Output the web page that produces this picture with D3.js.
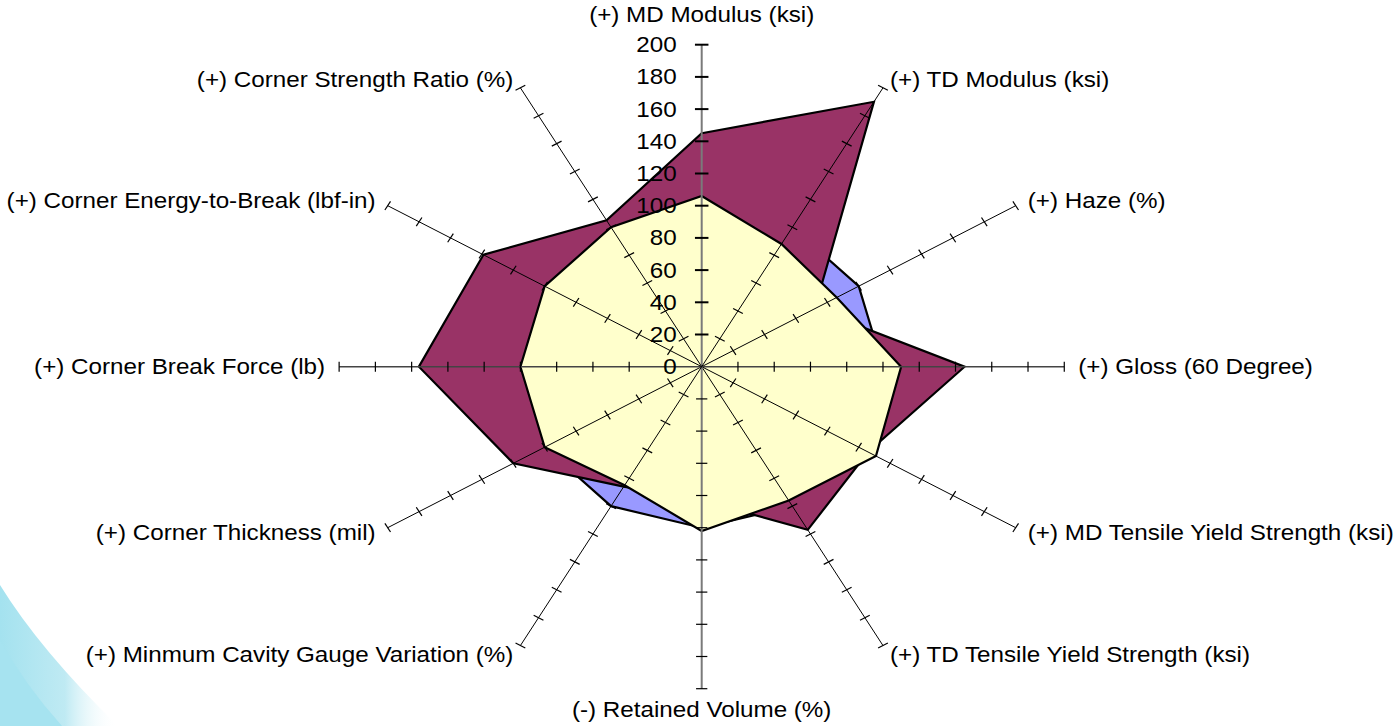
<!DOCTYPE html>
<html>
<head>
<meta charset="UTF-8">
<title>Radar chart</title>
<style>
    body { margin: 0; background: #fff; }
    svg { display: block; }
    text { font-family: "Liberation Sans", Arial, sans-serif; fill: #000; }
</style>
</head>
<body>
<svg id="chart" width="1395" height="726"></svg>
<script src="https://d3js.org/d3.v7.min.js"></script>
<script>
    // categories clockwise from the top
    let categories = [
        "(+) MD Modulus (ksi)",
        "(+) TD Modulus (ksi)",
        "(+) Haze (%)",
        "(+) Gloss (60 Degree)",
        "(+) MD Tensile Yield Strength (ksi)",
        "(+) TD Tensile Yield Strength (ksi)",
        "(-) Retained Volume (%)",
        "(+) Minmum Cavity Gauge Variation (%)",
        "(+) Corner Thickness (mil)",
        "(+) Corner Break Force (lb)",
        "(+) Corner Energy-to-Break (lbf-in)",
        "(+) Corner Strength Ratio (%)"
    ];
    let baseline = [100, 100, 100, 100, 100, 100, 100, 100, 100, 100, 100, 100];
    let sampleA = [145, 190, 72, 145, 106, 117, 83, 86, 120, 156, 139, 105];
    let sampleB = [106, 88, 86, 110, 111, 96, 102, 85, 100, 100, 100, 100];
    let tickValues = [0, 20, 40, 60, 80, 100, 120, 140, 160, 180, 200];

    let width = 1395, height = 726;
    let cx = 701.7, cy = 366.7, R = 322;
    let sx = 1.126; // picture is stretched sideways

    let svg = d3.select("#chart");

    // light cyan swoosh in the bottom-left corner
    let grad = svg.append("defs").append("linearGradient")
        .attr("id", "swoosh")
        .attr("x1", "0").attr("y1", "0").attr("x2", "1").attr("y2", "0");
    grad.append("stop").attr("offset", "0").attr("stop-color", "#a4e2ef");
    grad.append("stop").attr("offset", "0.55").attr("stop-color", "#bfeaf3");
    grad.append("stop").attr("offset", "1").attr("stop-color", "#ffffff").attr("stop-opacity", 0);
    svg.append("path")
        .attr("d", "M0,585 Q40,650 118,726 L0,726 Z")
        .attr("fill", "url(#swoosh)");
    svg.append("path")
        .attr("d", "M0,640 Q25,685 62,726 L0,726 Z")
        .attr("fill", "#a6e3f0");

    let r = d3.scaleLinear().domain([0, 200]).range([0, R]);
    let angle = i => i * 2 * Math.PI / categories.length;

    let g = svg.append("g")
        .attr("transform", "translate(" + cx + "," + cy + ") scale(" + sx + ",1)");

    let radar = d3.lineRadial()
        .angle((d, i) => angle(i))
        .radius(d => r(d))
        .curve(d3.curveLinearClosed);

    // series order as drawn: baseline at the back, sample B on top
    let series = [
        { values: baseline, color: "#9999ff" },
        { values: sampleA, color: "#993366" },
        { values: sampleB, color: "#ffffcc" }
    ];
    g.append("g").selectAll("path")
        .data(series)
        .enter()
        .append("path")
        .attr("d", d => radar(d.values))
        .attr("fill", d => d.color)
        .attr("stroke", "#000")
        .attr("stroke-width", 2.2)
        .attr("stroke-linejoin", "miter")
        .attr("vector-effect", "non-scaling-stroke");

    // spokes
    let spokes = g.append("g");
    categories.forEach((c, i) => {
        let a = angle(i), s = Math.sin(a), co = Math.cos(a);
        let vertical = Math.abs(s) < 0.01, horizontal = Math.abs(co) < 0.01;
        spokes.append("line")
            .attr("x1", 0).attr("y1", 0)
            .attr("x2", r(200) * s).attr("y2", -r(200) * co)
            .attr("stroke", vertical ? "#7a7a7a" : horizontal ? "#444" : "#000")
            .attr("stroke-width", vertical ? 2 : horizontal ? 1.4 : 1)
            .attr("vector-effect", "non-scaling-stroke");
        tickValues.slice(1).forEach(t => {
            let px = r(t) * s, py = -r(t) * co;
            let h = i == 0 ? 6 : 5;
            spokes.append("line")
                .attr("x1", px - co * h).attr("y1", py - s * h)
                .attr("x2", px + co * h).attr("y2", py + s * h)
                .attr("stroke", "#000")
                .attr("stroke-width", i == 0 ? 2 : 1.2)
                .attr("vector-effect", "non-scaling-stroke");
        });
    });

    // value labels on the top spoke
    g.append("g").selectAll("text")
        .data(tickValues)
        .enter()
        .append("text")
        .attr("x", -25 / sx)
        .attr("y", d => -r(d))
        .attr("dy", "0.35em")
        .attr("text-anchor", "end")
        .style("font-size", "21.5px")
        .text(d => d);

    // category labels
    g.append("g").selectAll("text")
        .data(categories)
        .enter()
        .append("text")
        .attr("x", (d, i) => {
            let s = Math.sin(angle(i));
            return r(200) * s + (s * 14) / sx;
        })
        .attr("y", (d, i) => {
            let co = Math.cos(angle(i));
            let off = -co * 10;
            if (co > 0.99) off = -30;
            if (co < -0.99) off = 21;
            return -r(200) * co + off;
        })
        .attr("dy", "0.35em")
        .attr("text-anchor", (d, i) => {
            let s = Math.sin(angle(i));
            return Math.abs(s) < 0.01 ? "middle" : s > 0 ? "start" : "end";
        })
        .style("font-size", "21.5px")
        .text(d => d);
</script>
</body>
</html>
